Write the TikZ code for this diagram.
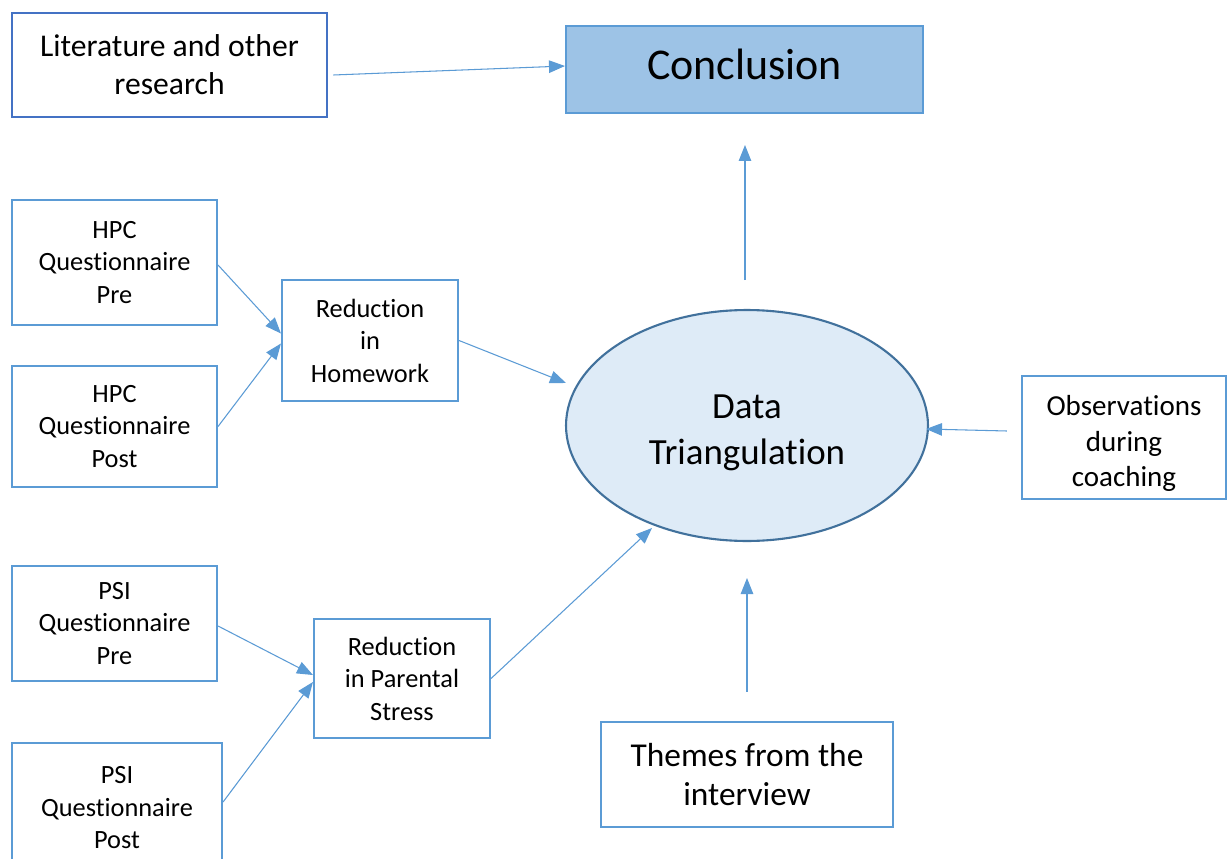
\documentclass[tikz,border=0pt]{standalone}
\usepackage{fontspec}
\setmainfont[Ligatures={NoCommon}]{Carlito}
\usetikzlibrary{shapes.geometric,arrows.meta}
\definecolor{bl}{HTML}{5B9BD5}
\definecolor{dbl}{HTML}{4472C4}
\definecolor{concfill}{HTML}{9DC3E6}
\definecolor{ellfill}{HTML}{DEEBF7}
\definecolor{elldraw}{HTML}{41719C}
\begin{document}
\begin{tikzpicture}[x=0.02cm,y=-0.02cm,
 box/.style={draw=bl, line width=1.2pt, align=center, inner sep=0pt, fill=white},
 small/.style={font=\fontsize{15}{18.5}\selectfont},
 conn/.style={draw=bl, line width=0.6pt, -{Triangle[length=0.32cm,width=0.25cm]}},
 ]
\clip (0,0) rectangle (1232,859);
\fill[white] (0,0) rectangle (1232,859);

\node[box, draw=dbl, line width=1.5pt, minimum width=6.3cm, minimum height=2.08cm,
  font=\fontsize{18}{21.5}\selectfont] (lit) at (169.5,65) {Literature and other\\research};
\node[box, fill=concfill, minimum width=7.14cm, minimum height=1.74cm,
  label={[font=\fontsize{25}{30}\selectfont, yshift=0.1cm]center:Conclusion}] (conc) at (744.5,69.5) {};

\node[box, small, minimum width=4.1cm, minimum height=2.5cm] (hpre) at (114.5,262.5) {HPC\\Questionnaire\\Pre};
\node[box, small, minimum width=4.1cm, minimum height=2.42cm] (hpost) at (114.5,426.5) {HPC\\Questionnaire\\Post};
\node[box, small, minimum width=3.52cm, minimum height=2.42cm] (hw) at (370,340.5) {Reduction\\in\\Homework};

\node[box, small, minimum width=4.1cm, minimum height=2.3cm] (ppre) at (114.5,623.5) {PSI\\Questionnaire\\Pre};
\node[box, small, minimum width=4.2cm, minimum height=2.6cm] (ppost) at (117,808) {PSI\\Questionnaire\\Post};
\node[box, small, minimum width=3.52cm, minimum height=2.38cm] (pr) at (402,678.5) {Reduction\\in Parental\\Stress};

\node[ellipse, draw=elldraw, fill=ellfill, line width=1.2pt, inner sep=0pt,
  minimum width=7.24cm, minimum height=4.62cm,
  label={[align=center, font=\fontsize{21}{26}\selectfont, yshift=-0.14cm]center:Data\\Triangulation}] (ell) at (747,425.5) {};

\node[box, minimum width=4.08cm, minimum height=2.46cm,
  label={[align=center, font=\fontsize{16.5}{20}\selectfont, yshift=-0.12cm]center:Observations\\during\\coaching}] (obs) at (1124,437.5) {};
\node[box, minimum width=5.84cm, minimum height=2.1cm,
  font=\fontsize{19}{22.7}\selectfont] (th) at (747,774.5) {Themes from the\\interview};

\coordinate (t1) at (745,280);
\coordinate (t2) at (745,145);

\draw[conn] ([shift={(5,10)}]lit.east) -- ([shift={(0,-3.5)}]conc.west);
\draw[conn] (t1) -- (t2);
\draw[conn] ([shift={(0,2.5)}]hpre.east) -- ([shift={(0,-7)}]hw.west);
\draw[conn] (hpost.east) -- ([shift={(0,3)}]hw.west);
\draw[conn] (hw.east) -- ([shift={(-181,-42.5)}]ell.center);
\draw[conn] ([shift={(0,2.5)}]ppre.east) -- ([shift={(0,-3.5)}]pr.west);
\draw[conn] ([shift={(0,-6)}]ppost.east) -- ([shift={(0,3.5)}]pr.west);
\draw[conn] (pr.east) -- ([shift={(-95,102.5)}]ell.center);
\draw[conn] ([shift={(-14,-6.5)}]obs.west) -- ([shift={(-3,3.5)}]ell.east);
\draw[conn] ([shift={(0,-29)}]th.north) -- ([shift={(0,36)}]ell.south);
\end{tikzpicture}
\end{document}
